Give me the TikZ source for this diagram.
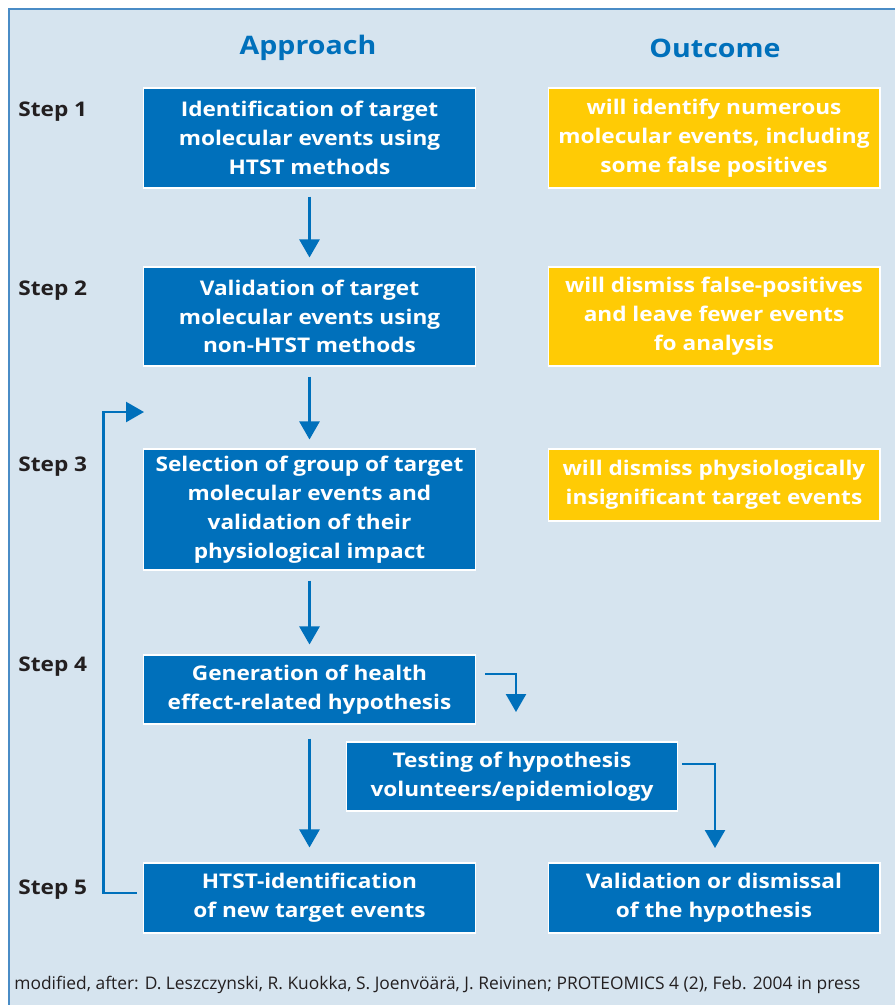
\documentclass[tikz,border=0pt]{standalone}
\usepackage{fontspec}
\setmainfont{Open Sans}[BoldFeatures={FakeStretch=1.12}]
\usetikzlibrary{arrows.meta}

\definecolor{bgblue}{HTML}{D6E4EF}
\definecolor{frameblue}{HTML}{4A8CC6}
\definecolor{boxblue}{HTML}{0070BB}
\definecolor{boxyellow}{HTML}{FFCB05}
\definecolor{steptext}{HTML}{231F20}

\begin{document}
\begin{tikzpicture}[x=0.02cm,y=-0.02cm,
    approach_node/.style={rectangle,draw=white,line width=0.6pt,fill=boxblue,text=white,
        font=\bfseries\fontsize{11.5}{16.4}\selectfont,align=center,minimum width=6.66cm,inner sep=2pt},
    outcome_node/.style={approach_node,fill=boxyellow,minimum width=6.64cm},
    step_label/.style={anchor=west,text=steptext,font=\bfseries\fontsize{11.5}{14}\selectfont,inner sep=0pt},
    head_label/.style={text=boxblue,font=\bfseries\fontsize{14.5}{16}\selectfont},
    arrow_line/.style={draw=boxblue,line width=1.4pt,-{Triangle[width=0.4cm,length=0.36cm]}}]
    \useasboundingbox (0,0) rectangle (894,1005);
    \fill[bgblue] (9,9) rectangle (900,1010);
    \draw[frameblue,line width=0.8pt] (900,9) -- (9,9) -- (9,1010);

    \node[head_label] (h1) at (308,48) {Approach};
    \node[head_label] (h2) at (715,48) {Outcome};

    \node[step_label] (s1) at (18,112) {Step 1};
    \node[step_label] (s2) at (18,291) {Step 2};
    \node[step_label] (s3) at (18,467) {Step 3};
    \node[step_label] (s4) at (18,667) {Step 4};
    \node[step_label] (s5) at (18,890) {Step 5};

    \node[approach_node,minimum height=2cm] (1) at (309.5,138) {Identification of target\\molecular events using\\HTST methods};
    \node[outcome_node,minimum height=2cm] (2) at (714,138) {will identify numerous\\molecular events, including\\some false positives};
    \node[approach_node,minimum height=1.98cm] (3) at (309.5,316.5) {Validation of target\\molecular events using\\non-HTST methods};
    \node[outcome_node,minimum height=1.98cm] (4) at (714,316.5) {will dismiss false-positives\\and leave fewer events\\fo analysis};
    \node[approach_node,minimum height=2.42cm] (5) at (309.5,509.5) {Selection of group of target\\molecular events and\\validation of their\\physiological impact};
    \node[outcome_node,minimum height=1.44cm] (6) at (714,485) {will dismiss physiologically\\insignificant target events};
    \node[approach_node,minimum height=1.38cm] (7) at (309.5,689.5) {Generation of health\\effect-related hypothesis};
    \node[approach_node,minimum height=1.38cm,minimum width=6.64cm] (8) at (512,776.5) {Testing of hypothesis\\volunteers/epidemiology};
    \node[approach_node,minimum height=1.4cm] (9) at (309.5,898) {HTST-identification\\of new target events};
    \node[approach_node,minimum height=1.4cm,minimum width=6.64cm] (10) at (714,898) {Validation or dismissal\\of the hypothesis};

    \coordinate (c1) at (516,712);
    \coordinate (c2) at (715,848);
    \coordinate (c3) at (144,412);

    \draw[arrow_line] ([yshift=-8*0.02cm]1.south) -- ([yshift=9*0.02cm]3.north);
    \draw[arrow_line] ([yshift=-10*0.02cm]3.south) -- ([yshift=9*0.02cm]5.north);
    \draw[arrow_line] ([yshift=-10*0.02cm]5.south) -- ([yshift=10*0.02cm]7.north);
    \draw[arrow_line] ([yshift=-14*0.02cm]7.south) -- ([yshift=15*0.02cm]9.north);
    \draw[arrow_line] ([xshift=9*0.02cm,yshift=15.5*0.02cm]7.east) -| (c1);
    \draw[arrow_line] ([xshift=4*0.02cm,yshift=12.5*0.02cm]8.east) -| (c2);
    \draw[arrow_line] ([xshift=-6*0.02cm,yshift=5*0.02cm]9.west) -- ++(-33,0) |- (c3);

    \node[anchor=west,inner sep=0pt,text=steptext,font=\fontsize{9.9}{11}\selectfont] (f) at (14,985)
        {modified, after: D. Leszczynski, R. Kuokka, S. Joenvöärä, J. Reivinen; PROTEOMICS 4 (2), Feb. 2004 in press};
\end{tikzpicture}
\end{document}
